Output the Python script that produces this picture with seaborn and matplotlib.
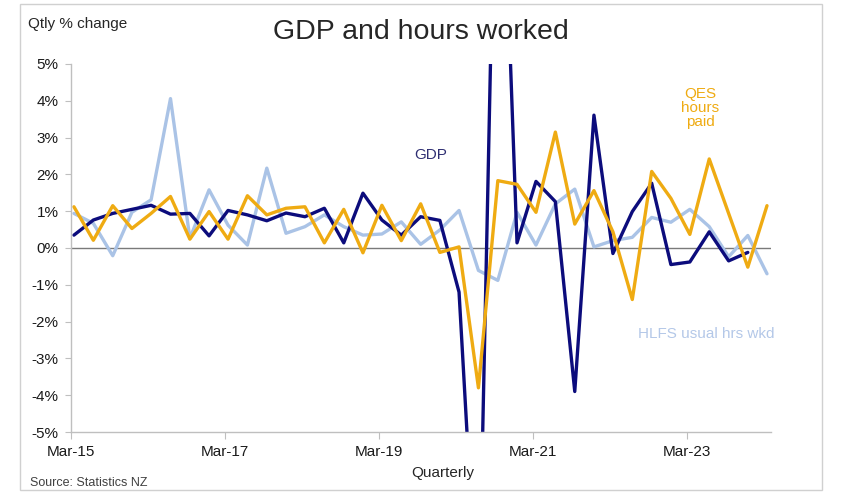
import pandas as pd
import matplotlib
matplotlib.use("Agg")
import matplotlib.pyplot as plt
from matplotlib.patches import Rectangle
import seaborn as sns

# quarterly % change, Mar-15 onwards (GDP ends Dec-23)
gdp = [0.35, 0.76, 0.94, 1.05, 1.16, 0.92, 0.94, 0.33, 1.02, 0.90, 0.74, 0.95,
       0.85, 1.08, 0.14, 1.49, 0.76, 0.35, 0.85, 0.75, -1.20, -10.5, 14.5, 0.14,
       1.81, 1.26, -3.90, 3.61, -0.15, 0.99, 1.76, -0.45, -0.38, 0.44, -0.35, -0.12]
qes = [1.12, 0.21, 1.15, 0.53, 0.94, 1.40, 0.24, 0.99, 0.24, 1.42, 0.90, 1.08,
       1.12, 0.14, 1.05, -0.13, 1.16, 0.20, 1.20, -0.12, 0.03, -3.80, 1.83, 1.73,
       0.97, 3.15, 0.65, 1.56, 0.44, -1.40, 2.08, 1.35, 0.37, 2.42, 0.94, -0.52, 1.15]
hlfs = [0.94, 0.67, -0.21, 0.97, 1.31, 4.06, 0.26, 1.58, 0.62, 0.08, 2.17, 0.40,
        0.58, 0.90, 0.58, 0.35, 0.38, 0.71, 0.10, 0.49, 1.02, -0.61, -0.88, 0.97,
        0.08, 1.20, 1.60, 0.03, 0.20, 0.29, 0.83, 0.70, 1.05, 0.58, -0.24, 0.34, -0.70]

series_names = ["HLFS", "GDP", "QES"]
colors = {"HLFS": "#aac3e6", "GDP": "#0c0c7c", "QES": "#efab12"}

tick_dates = ["2015-03-01", "2017-03-01", "2019-03-01", "2021-03-01", "2023-03-01"]
tick_labels = ["Mar-15", "Mar-17", "Mar-19", "Mar-21", "Mar-23"]
y_ticks = [-5, -4, -3, -2, -1, 0, 1, 2, 3, 4, 5]

quarters = pd.date_range("2015-03-01", periods=len(qes), freq="QS-MAR") + pd.Timedelta(days=14)

frames = []
for name, vals in zip(series_names, [hlfs, gdp, qes]):
    frames.append(pd.DataFrame({"quarter": quarters[:len(vals)], "change": vals, "series": name}))
df = pd.concat(frames, ignore_index=True)

sns.set_style("white")
plt.rcParams["font.family"] = ["Liberation Sans", "DejaVu Sans"]

fig = plt.figure(figsize=(8.41, 4.95), dpi=100)
ax = fig.add_axes([71 / 841, 1 - 432 / 495, 700 / 841, 368 / 495])

sns.lineplot(data=df, x="quarter", y="change", hue="series", hue_order=series_names,
             palette=colors, linewidth=2.4, estimator=None, legend=False, ax=ax)

ax.axhline(0, color="#7a7a7a", lw=1, zorder=1)
ax.set_xlim(pd.Timestamp("2015-03-01"), pd.Timestamp("2024-04-03"))
ax.set_ylim(-5, 5)

ax.set_xticks(pd.to_datetime(tick_dates))
ax.set_xticklabels(tick_labels)
ax.set_yticks(y_ticks)
ax.set_yticklabels([f"{v}%" for v in y_ticks])
ax.set_xlabel("")
ax.set_ylabel("")

for side in ["top", "right"]:
    ax.spines[side].set_visible(False)
for side in ["left", "bottom"]:
    ax.spines[side].set_color("#bfbfbf")
    ax.spines[side].set_linewidth(1)
ax.tick_params(axis="y", length=4, color="#bfbfbf", labelsize=11, pad=5, labelcolor="#1a1a1a", left=True)
ax.tick_params(axis="x", length=5, color="#bfbfbf", labelsize=11, pad=4, labelcolor="#1a1a1a", bottom=True)

# series labels
ax.text(0.514, 0.753, "GDP", transform=ax.transAxes, color="#2e2e72", fontsize=11,
        ha="center", va="center")
ax.text(0.899, 0.880, "QES\nhours\npaid", transform=ax.transAxes, color="#efab12",
        fontsize=11, ha="center", va="center", linespacing=1.0)
ax.text(0.908, 0.266, "HLFS usual hrs wkd", transform=ax.transAxes, color="#b4c8e8",
        fontsize=11, ha="center", va="center")

fig.text(421 / 841, 1 - 32 / 495, "GDP and hours worked", fontsize=20.5, ha="center", va="center")
fig.text(28 / 841, 1 - 24 / 495, "Qtly % change", fontsize=11, ha="left", va="center")
fig.text(443 / 841, 1 - 473 / 495, "Quarterly", fontsize=11, ha="center", va="center")
fig.text(30 / 841, 1 - 483 / 495, "Source: Statistics NZ", fontsize=9, color="#404040",
         ha="left", va="center")

fig.patches.append(Rectangle((20 / 841, 1 - 490 / 495), 802 / 841, 486 / 495,
                             transform=fig.transFigure, fill=False, ec="#d0d0d0", lw=1))

fig.savefig("out.png", dpi=100)
